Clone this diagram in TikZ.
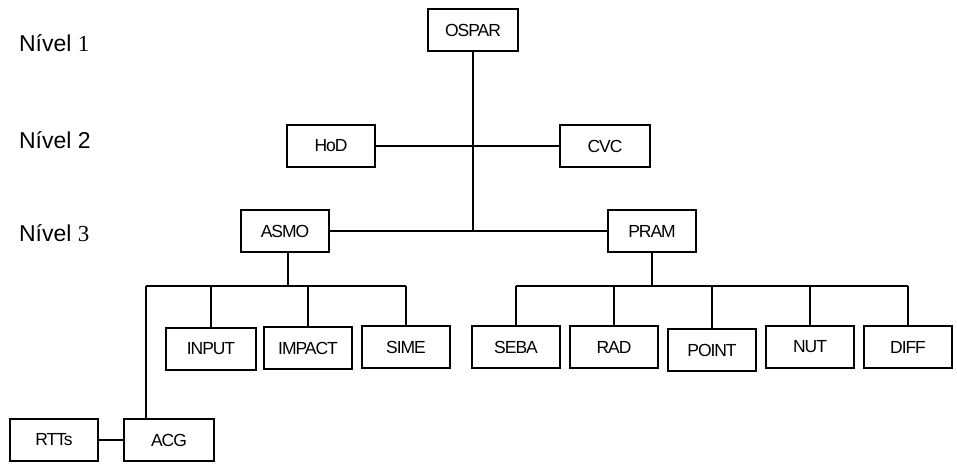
\documentclass[tikz,border=0pt]{standalone}
\usepackage{fontspec}
\setmainfont{Liberation Sans}
\newfontfamily\tnr{Liberation Serif}
\newfontfamily\boxfont[LetterSpace=-6]{Liberation Sans}
\usepackage{tikz}

\begin{document}
\begin{tikzpicture}[x=1pt, y=-1pt, line width=2pt,
    unit/.style={draw, line width=2pt, minimum width=88pt, minimum height=42pt,
        inner sep=0pt, font=\boxfont\fontsize{17.5}{19}\selectfont},
    level/.style={anchor=west, inner sep=0pt, font=\fontsize{23}{26}\selectfont}]

    \useasboundingbox (0,0) rectangle (957,463);

    % Level labels
    \node[level] (L1) at (18,43) {Nível {\tnr 1}};
    \node[level] (L2) at (18,140) {Nível 2};
    \node[level] (L3) at (18,233) {Nível {\tnr 3}};

    % Level 1 and 2
    \node[unit, minimum width=90pt] (OSPAR) at (473,30) {OSPAR};
    \node[unit] (HoD) at (331,146) {HoD};
    \node[unit, minimum width=90pt] (CVC) at (605,146) {CVC};

    % Level 3
    \node[unit] (ASMO) at (285,231) {ASMO};
    \node[unit] (PRAM) at (652,231) {PRAM};

    % Groups under ASMO
    \node[unit, minimum width=90pt] (INPUT) at (211,349) {INPUT};
    \node[unit] (IMPACT) at (308,348) {IMPACT};
    \node[unit] (SIME) at (406,347) {SIME};
    \node[unit, minimum width=90pt] (ACG) at (169,440) {ACG};
    \node[unit] (RTTs) at (54,440) {RTTs};

    % Groups under PRAM
    \node[unit] (SEBA) at (516,347) {SEBA};
    \node[unit] (RAD) at (614,347) {RAD};
    \node[unit] (POINT) at (712,350) {POINT};
    \node[unit] (NUT) at (810,347) {NUT};
    \node[unit] (DIFF) at (908,347) {DIFF};

    % Tree lines
    \coordinate (mid) at (OSPAR.south |- ASMO.east);
    \draw (OSPAR.south) -- (mid);
    \draw (HoD) -- (CVC);
    \draw (ASMO) -- (PRAM);

    \coordinate (aBus) at (288,286);
    \coordinate (aLeft) at (146,286);
    \draw (ASMO.south -| aBus) -- (aBus);
    \draw (aLeft) -- (SIME.north |- aBus);
    \draw (aLeft) -- (aLeft |- ACG.north);
    \foreach \n in {INPUT, IMPACT, SIME} {
        \draw (\n.north) -- (\n.north |- aBus);
    }
    \draw (RTTs) -- (ACG);

    \coordinate (pBus) at (PRAM.south |- aBus);
    \draw (PRAM.south) -- (pBus);
    \draw (SEBA.north |- pBus) -- (DIFF.north |- pBus);
    \foreach \n in {SEBA, RAD, POINT, NUT, DIFF} {
        \draw (\n.north) -- (\n.north |- pBus);
    }

\end{tikzpicture}
\end{document}
